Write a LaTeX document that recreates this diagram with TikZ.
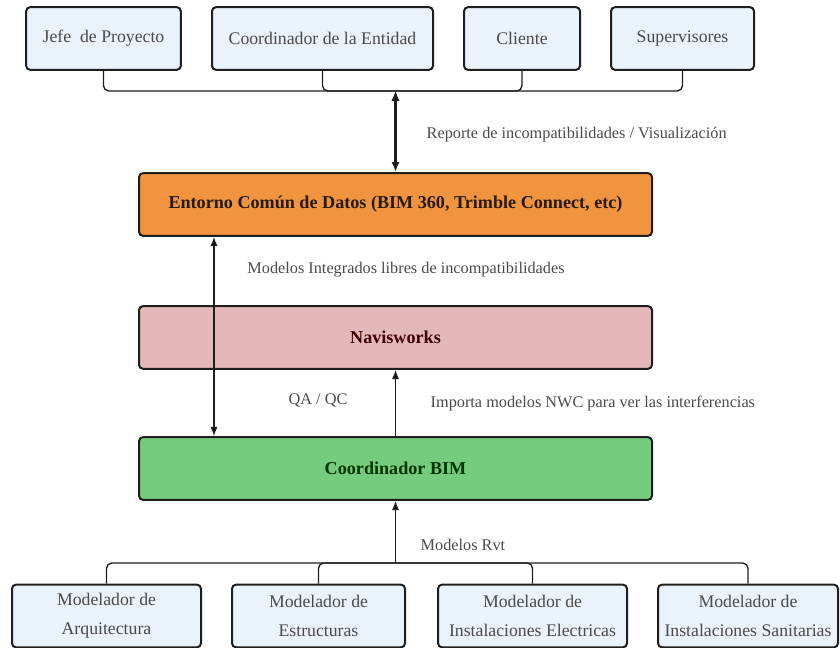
\documentclass[tikz,border=0pt]{standalone}
\usepackage{fontspec}
\setmainfont{Liberation Serif}
\usetikzlibrary{positioning}
\usetikzlibrary{arrows.meta}
\usetikzlibrary{calc}
\definecolor{boxblue}{HTML}{EAF2FC}
\definecolor{cdeorange}{HTML}{F0943F}
\definecolor{navipink}{HTML}{E4B8B9}
\definecolor{bimgreen}{HTML}{74CC7C}
\definecolor{txtgray}{HTML}{4A4A4A}
\definecolor{edgedark}{HTML}{1E1E1E}

\begin{document}
\begin{tikzpicture}[x=0.75pt, y=-0.75pt,
			role/.style = {
				draw = edgedark, line width = 1.5pt, rounded corners = 3pt,
				fill = boxblue, minimum height = 47pt, text = txtgray,
				align = center, font = \fontsize{13.3}{22}\selectfont
			},
			stage/.style = {
				draw = edgedark, line width = 1.5pt, rounded corners = 3pt,
				minimum width = 384.75pt, minimum height = 47pt,
				font = \fontsize{13.6}{16}\selectfont\bfseries
			},
			lbl/.style = {
				text = txtgray, font = \fontsize{12.2}{14}\selectfont
			},
			bus/.style = {
				draw = edgedark, line width = 1pt, rounded corners = 4pt
			}]
			\useasboundingbox (0,0) rectangle (840,648);
			% actores superiores
			\node (jp) [role, minimum width = 116pt] at (103.5,38.5) {Jefe\ \ de Proyecto};
			\node (ce) [role, minimum width = 165.75pt] at (322.5,38.5) {Coordinador de la Entidad};
			\node (cl) [role, minimum width = 87pt] at (522,38.5) {Cliente};
			\node (su) [role, minimum width = 107.25pt] at (682.5,38.5) {Supervisores};
			% etapas centrales
			\node (cde) [stage, fill = cdeorange, text = black!80!brown] at (395.5,204.5) {Entorno Común de Datos (BIM 360, Trimble Connect, etc)};
			\node (nw) [stage, fill = navipink, text = black!75!red] at (395.5,337.5) {Navisworks};
			\node (cb) [stage, fill = bimgreen, text = black!80!green] at (395.5,468.5) {Coordinador BIM};
			% modeladores
			\node (ma) [role, minimum width = 141.75pt] at (106.5,616) {Modelador de\\Arquitectura};
			\node (me) [role, minimum width = 129.75pt] at (318.5,616) {Modelador de\\Estructuras};
			\node (mi) [role, minimum width = 141.75pt] at (532.5,616) {Modelador de\\Instalaciones Electricas};
			\node (ms) [role, minimum width = 135pt] at (748,616) {Modelador de\\Instalaciones Sanitarias};
			\coordinate (tb) at (395.5,91);
			\coordinate (bb) at (395.5,563);
			\coordinate (qa) at ($(cde.south west)+(76,0)$);
			\coordinate (qb) at ($(cb.north west)+(76,0)$);
			\draw [bus] (jp.south) |- (tb) -| (su.south);
			\draw [bus] (ce.south) |- (tb);
			\draw [bus] (cl.south) |- (tb);
			\draw [bus] (ma.north) |- (bb) -| (ms.north);
			\draw [bus] (me.north) |- (bb);
			\draw [bus] (mi.north) |- (bb);
			\path [line width = 1.6pt, draw = edgedark, {Latex[length=7.5pt,width=6pt]}-{Latex[length=7.5pt,width=6pt]}]
			(tb) edge (cde.north);
			\path [line width = 1.1pt, draw = edgedark]
			(qa) edge [{Latex[length=7pt,width=5.5pt]}-{Latex[length=7pt,width=5.5pt]}] (qb)
			(cb.north) edge [-{Latex[length=7pt,width=5.5pt]}] (nw.south)
			(bb) edge [-{Latex[length=7pt,width=5.5pt]}] (cb.south);
			% etiquetas
			\node (l1) [lbl, anchor = west] at (422,135) {Reporte de incompatibilidades / Visualización};
			\node (l2) [lbl] at (406,270) {Modelos Integrados libres de incompatibilidades};
			\node (l3) [lbl] at (318,400) {QA / QC};
			\node (l4) [lbl, anchor = west] at (426,404) {Importa modelos NWC para ver las interferencias};
			\node (l5) [lbl, anchor = west] at (416,545) {Modelos Rvt};
		\end{tikzpicture}
\end{document}
